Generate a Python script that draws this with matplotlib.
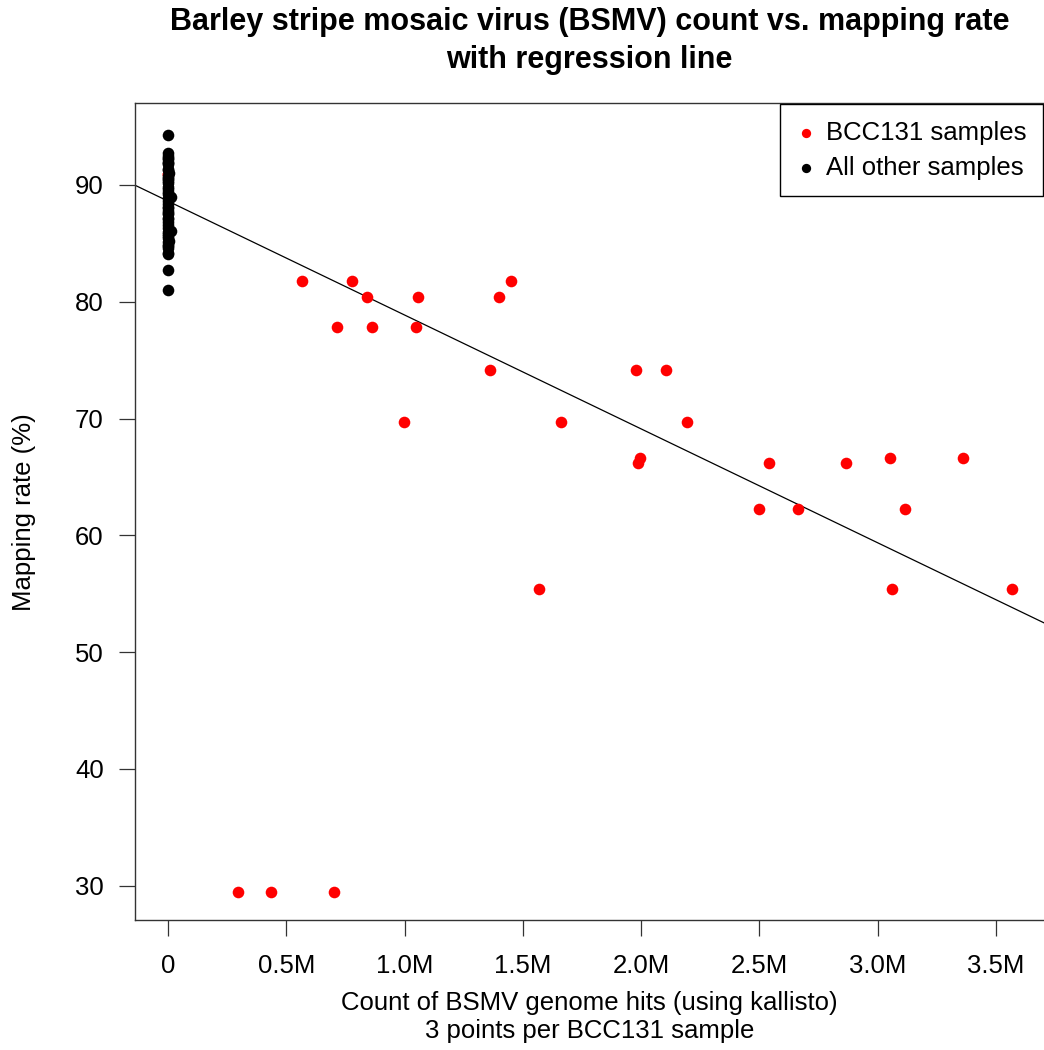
import matplotlib
matplotlib.use('Agg')
import numpy as np
import matplotlib.pyplot as plt
from matplotlib.ticker import FuncFormatter

plt.ioff()

# BCC131 samples, 3 points per sample (BSMV hit counts, mapping rate %).
bcc_counts = [
    565e3, 777e3, 1452e3,
    842e3, 1056e3, 1401e3,
    713e3, 863e3, 1049e3,
    1363e3, 1978e3, 2107e3,
    997e3, 1661e3, 2196e3,
    1569e3, 3061e3, 3569e3,
    1989e3, 2539e3, 2865e3,
    1997e3, 3053e3, 3359e3,
    2500e3, 2664e3, 3115e3,
    297e3, 434e3, 702e3,
    0, 0]
bcc_rates = [
    81.8, 81.8, 81.8,
    80.4, 80.4, 80.4,
    77.8, 77.8, 77.8,
    74.2, 74.2, 74.2,
    69.7, 69.7, 69.7,
    55.4, 55.4, 55.4,
    66.2, 66.2, 66.2,
    66.6, 66.6, 66.6,
    62.3, 62.3, 62.3,
    29.5, 29.5, 29.5,
    90.9, 90.9]

# All other samples, all at (almost) zero BSMV hits.
other_rates = [
    94.3, 92.7, 92.5, 92.3, 92.2, 91.9, 91.8, 91.4, 91.3, 91.0,
    90.8, 90.6, 90.3, 90.2, 89.8, 89.7, 89.4, 89.0, 88.9, 88.6,
    88.4, 88.1, 88.0, 87.8, 87.5, 87.2, 87.1, 86.8, 86.6, 86.1,
    86.0, 85.8, 85.5, 85.2, 85.1, 84.8, 84.6, 84.2, 84.1, 82.7,
    81.0, 92.0, 90.5, 89.2, 87.6, 86.3, 85.6, 84.9]
other_counts = [0] * len(other_rates)
other_counts[17] = 11e3
other_counts[29] = 11e3
other_counts[33] = 6e3
other_counts[9] = 5e3

# lm fit as drawn by abline (rate vs. count in M).
reg_intercept = 88.62
reg_slope_per_m = -9.75

x_ticks = [0, 0.5e6, 1.0e6, 1.5e6, 2.0e6, 2.5e6, 3.0e6, 3.5e6]
y_ticks = [30, 40, 50, 60, 70, 80, 90]

title = ('Barley stripe mosaic virus (BSMV) count vs. mapping rate\n'
         'with regression line')
xlabel_1 = 'Count of BSMV genome hits (using kallisto)'
xlabel_2 = '3 points per BCC131 sample'
ylabel = 'Mapping rate (%)'


def fmt_m(val, pos):
    if abs(val) < 1:
        return '0'
    return f'{val / 1e6:.1f}M'


def main():

    font = 'Liberation Sans'
    fsize = 18.5
    plt.rcParams['font.family'] = [font, 'DejaVu Sans']

    fig = plt.figure(figsize=(10.44, 10.5), dpi=100)
    ax = fig.add_axes([0.1293, 0.1238, 0.8712, 0.7781])

    ax.scatter(bcc_counts, bcc_rates, s=70, c='#ff0000', lw=0,
               label='BCC131 samples', zorder=3)
    ax.scatter(other_counts, other_rates, s=70, c='black', lw=0,
               label='All other samples', zorder=4)

    xlim = (-0.1396e6, 3.7056e6)
    xs = np.array(xlim)
    ax.plot(xs, reg_intercept + reg_slope_per_m * xs / 1e6,
            color='black', lw=0.9, zorder=2)

    ax.set_xlim(*xlim)
    ax.set_ylim(27.07, 97.02)

    ax.set_xticks(x_ticks)
    ax.xaxis.set_major_formatter(FuncFormatter(fmt_m))
    ax.set_yticks(y_ticks)

    ax.tick_params(direction='out', length=11.5, width=0.9,
                   labelsize=fsize, color='#333333')
    ax.tick_params(axis='x', pad=13)
    ax.tick_params(axis='y', pad=11)

    for sp in ax.spines.values():
        sp.set_linewidth(1.0)
        sp.set_color('#333333')

    #==========================================================================
    # legend box in the top right corner, R style
    #==========================================================================
    leg = ax.legend(loc='upper right', fontsize=fsize, frameon=True,
                    fancybox=False, borderaxespad=0.05, borderpad=0.65,
                    handlelength=0.75, handletextpad=0.4,
                    labelspacing=0.42, markerscale=0.8)
    leg.get_frame().set_edgecolor('black')
    leg.get_frame().set_linewidth(1.0)
    leg.get_frame().set_alpha(1)

    cx = 0.1293 + 0.8712 / 2
    fig.text(cx, 1 - 22 / 1050, title.split('\n')[0], ha='center',
             va='center', fontsize=22, fontweight='bold')
    fig.text(cx, 1 - 60 / 1050, title.split('\n')[1], ha='center',
             va='center', fontsize=22, fontweight='bold')

    fig.text(cx, 1 - 1003 / 1050, xlabel_1, ha='center', va='center',
             fontsize=fsize)
    fig.text(cx, 1 - 1031 / 1050, xlabel_2, ha='center', va='center',
             fontsize=fsize)
    fig.text(24 / 1044, 1 - 512 / 1050, ylabel, ha='center', va='center',
             rotation=90, fontsize=fsize)

    fig.savefig('out.png', dpi=100)
    plt.close(fig)
    return


if __name__ == '__main__':
    main()
